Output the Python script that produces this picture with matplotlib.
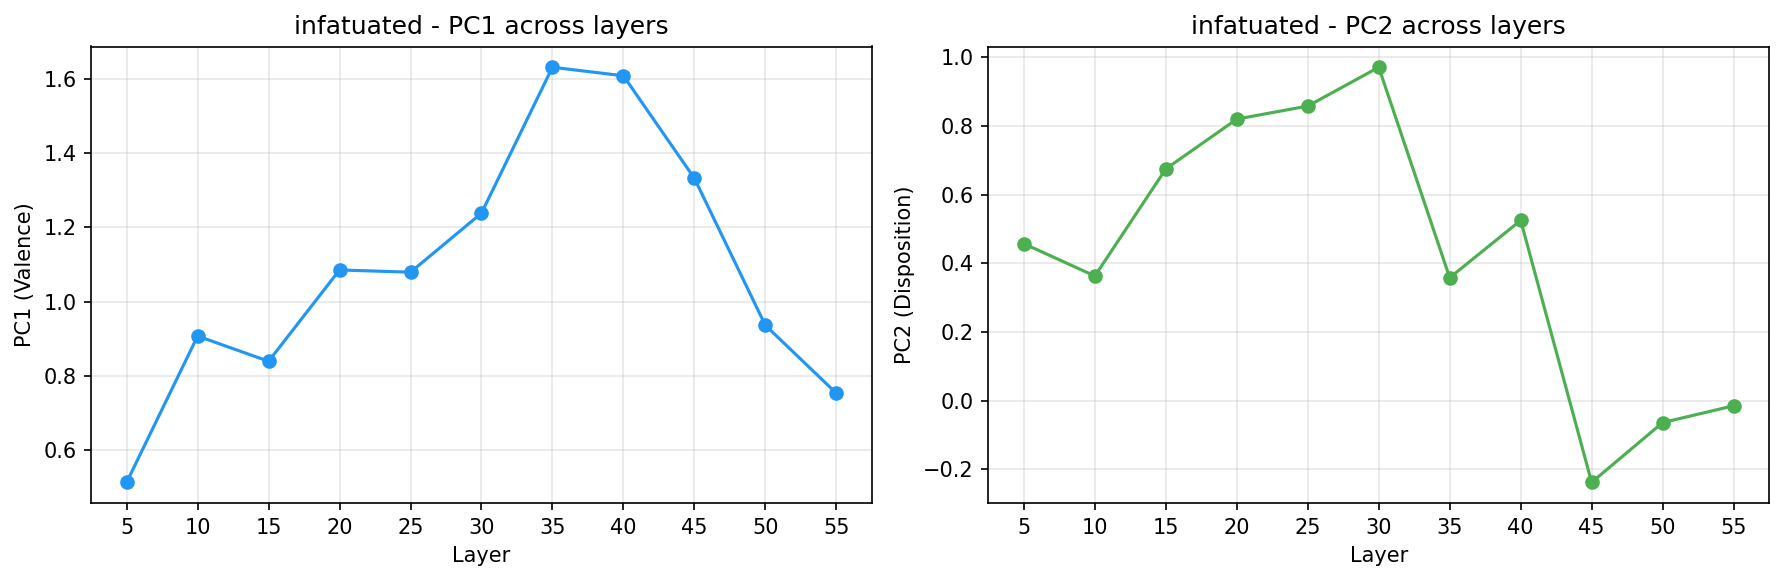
import matplotlib
matplotlib.use("Agg")
import matplotlib.pyplot as plt

# 数据：各层的 PC1 / PC2
layers = [5, 10, 15, 20, 25, 30, 35, 40, 45, 50, 55]
pc1_values = [0.513, 0.907, 0.839, 1.085, 1.079, 1.238, 1.631, 1.608, 1.332, 0.936, 0.753]
pc2_values = [0.457, 0.363, 0.675, 0.820, 0.858, 0.971, 0.358, 0.525, -0.238, -0.064, -0.015]
emotion = "infatuated"

fig, axes = plt.subplots(1, 2, figsize=(12, 4))

# PC1
ax = axes[0]
ax.plot(layers, pc1_values, marker='o', color='#2196F3', linewidth=1.5, markersize=6)
ax.set_title(f"{emotion} - PC1 across layers")
ax.set_xlabel("Layer")
ax.set_ylabel("PC1 (Valence)")
ax.set_xticks(layers)
ax.grid(True, alpha=0.3)

# PC2
ax = axes[1]
ax.plot(layers, pc2_values, marker='o', color='#4CAF50', linewidth=1.5, markersize=6)
ax.set_title(f"{emotion} - PC2 across layers")
ax.set_xlabel("Layer")
ax.set_ylabel("PC2 (Disposition)")
ax.set_xticks(layers)
ax.grid(True, alpha=0.3)

plt.tight_layout()
plt.savefig("out.png", dpi=150, bbox_inches='tight')
